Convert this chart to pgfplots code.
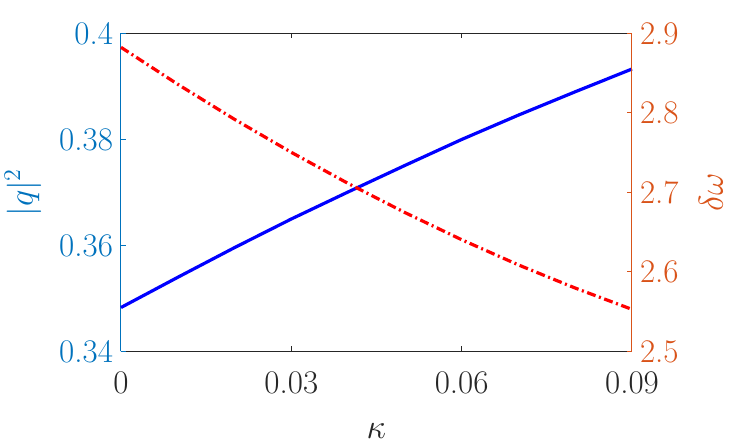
\documentclass[border=0pt]{standalone}
\usepackage{pgfplots}
\pgfplotsset{compat=1.18}
\definecolor{mblue}{RGB}{0,114,189}
\definecolor{morange}{RGB}{217,83,25}
\definecolor{mgray}{RGB}{38,38,38}
\pgfplotsset{base/.style={scale only axis, width=255.5pt, height=159pt,
  xmin=0, xmax=0.09, tick align=inside, major tick length=2.5pt,
  scaled x ticks=false, scaled y ticks=false,
  every tick label/.append style={font=\fontsize{16.5}{19}\selectfont},
  every axis label/.append style={font=\fontsize{16.5}{19}\selectfont},
  clip=false}}
\begin{document}
\begin{tikzpicture}
\path[use as bounding box] (-60.5pt,-48.25pt) rectangle (307.5pt,175.75pt);
\begin{axis}[base, axis x line*=box, axis y line=none, ymin=0, ymax=1,
  xtick={0,0.03,0.06,0.09}, xticklabels={0,0.03,0.06,0.09},
  axis line style={mgray, line width=0.5pt}, tick style={mgray, line width=0.5pt},
  xticklabel style={mgray, yshift=-6.5pt},
  xlabel={$\kappa$}, xlabel style={mgray, at={(axis description cs:0.5,-0.25)}, anchor=center}]
\end{axis}
\begin{axis}[base, axis x line=none, axis y line*=left, ymin=0.34, ymax=0.4,
  ytick={0.34,0.36,0.38,0.4}, yticklabels={0.34,0.36,0.38,0.4},
  axis line style={mblue, line width=0.5pt}, tick style={mblue, line width=0.5pt},
  yticklabel style={mblue, xshift=-0.5pt},
  ylabel={$|q|^2$}, ylabel style={mblue, at={(axis description cs:-0.192,0.5)}, anchor=center}]
\addplot[blue, line width=1.6pt] coordinates {
(0,0.3483) (0.01,0.3540) (0.02,0.3596) (0.03,0.3650) (0.04,0.3701)
(0.05,0.3751) (0.06,0.3800) (0.07,0.3846) (0.08,0.3890) (0.09,0.3933)};
\end{axis}
\begin{axis}[base, axis x line=none, axis y line*=right, ymin=2.5, ymax=2.9,
  ytick={2.5,2.6,2.7,2.8,2.9}, yticklabels={2.5,2.6,2.7,2.8,2.9},
  axis line style={morange, line width=0.5pt}, tick style={morange, line width=0.5pt},
  yticklabel style={morange, xshift=0.5pt},
  ylabel={$\delta\omega$}, ylabel style={morange, at={(axis description cs:1.1546,0.5)}, anchor=center}]
\addplot[red, line width=1.6pt, dash pattern=on 4.5pt off 1.8pt on 1pt off 1.8pt] coordinates {
(0,2.8826) (0.01,2.8361) (0.02,2.7920) (0.03,2.7505) (0.04,2.7114)
(0.05,2.6748) (0.06,2.6406) (0.07,2.6089) (0.08,2.5798) (0.09,2.5530)};
\end{axis}
\end{tikzpicture}
\end{document}
